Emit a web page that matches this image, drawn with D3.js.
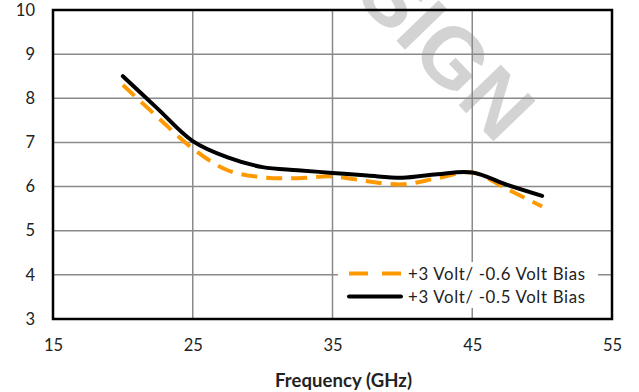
<!DOCTYPE html>
<html>
<head>
<meta charset="utf-8">
<script src="https://cdn.jsdelivr.net/npm/d3@7"></script>
<style>
  body { margin: 0; background: #fff; }
  svg { display: block; font-family: Lato, "Open Sans", sans-serif; }
</style>
</head>
<body>
<script>
// Datos
const freq = [20, 22.5, 25, 27.5, 30, 32.5, 35, 37.5, 40, 42.5, 45, 47.5, 50];
const bias06 = [8.30, 7.57, 6.86, 6.37, 6.21, 6.19, 6.23, 6.12, 6.05, 6.19, 6.32, 5.94, 5.55];
const bias05 = [8.50, 7.76, 7.03, 6.66, 6.44, 6.37, 6.31, 6.25, 6.20, 6.28, 6.32, 6.04, 5.79];
const xTicks = [15, 25, 35, 45, 55];
const yTicks = [3, 4, 5, 6, 7, 8, 9, 10];
const seriesNames = ["+3 Volt/ -0.6 Volt Bias", "+3 Volt/ -0.5 Volt Bias"];

const width = 639;
const height = 392;
const plotLeft = 53, plotRight = 612, plotTop = 10, plotBottom = 319;

const svg = d3.select("body")
    .append("svg")
    .attr("width", width)
    .attr("height", height);

// Escalas
const x = d3.scaleLinear().domain([15, 55]).range([plotLeft, plotRight]);
const y = d3.scaleLinear().domain([3, 10]).range([plotBottom, plotTop]);

// Marca de agua (debajo de la rejilla, cortada arriba como en el original)
svg.append("text")
    .attr("transform", "translate(353,-4) rotate(46)")
    .style("font-family", "Liberation Sans, Arial, sans-serif")
    .style("font-weight", "bold")
    .style("font-size", "85px")
    .style("fill", "#d3d3d3")
    .text("SIGN");

// Rejilla
svg.append("g")
    .selectAll("line")
    .data(yTicks)
    .enter()
    .append("line")
    .attr("x1", plotLeft).attr("x2", plotRight)
    .attr("y1", d => y(d)).attr("y2", d => y(d))
    .attr("stroke", "#8a8a8a")
    .attr("stroke-width", 1.5);

svg.append("g")
    .selectAll("line")
    .data(xTicks)
    .enter()
    .append("line")
    .attr("x1", d => x(d)).attr("x2", d => x(d))
    .attr("y1", plotTop).attr("y2", plotBottom)
    .attr("stroke", "#8a8a8a")
    .attr("stroke-width", 1.5);

// Ejes (solo etiquetas)
const xAxis = d3.axisBottom(x).tickValues(xTicks).tickSize(0).tickPadding(0).tickFormat(d3.format("d"));
const yAxis = d3.axisLeft(y).tickValues(yTicks).tickSize(0).tickPadding(0).tickFormat(d3.format("d"));

svg.append("g")
    .attr("transform", "translate(0," + (plotBottom + 20) + ")")
    .call(xAxis)
    .call(g => g.select(".domain").remove())
    .selectAll("text")
    .style("font-size", "16.5px")
    .style("fill", "#222")
    .style("font-family", "Lato, sans-serif");

svg.append("g")
    .attr("transform", "translate(" + (plotLeft - 18) + ",0)")
    .call(yAxis)
    .call(g => g.select(".domain").remove())
    .selectAll("text")
    .style("font-size", "16.5px")
    .style("fill", "#222")
    .style("font-family", "Lato, sans-serif");

// Lineas
const line = (vals) => d3.line()
    .x((d, i) => x(freq[i]))
    .y(d => y(d))
    .curve(d3.curveCatmullRom.alpha(0.5))(vals);

svg.append("path")
    .attr("d", line(bias06))
    .attr("fill", "none")
    .attr("stroke", "#ff9900")
    .attr("stroke-width", 4)
    .attr("stroke-dasharray", "16,9");

svg.append("path")
    .attr("d", line(bias05))
    .attr("fill", "none")
    .attr("stroke", "#000")
    .attr("stroke-width", 4)
    .attr("stroke-linecap", "round");

// Marco del area de trazado
svg.append("rect")
    .attr("x", plotLeft).attr("y", plotTop)
    .attr("width", plotRight - plotLeft).attr("height", plotBottom - plotTop)
    .attr("fill", "none")
    .attr("stroke", "#000")
    .attr("stroke-width", 2.5);

// Leyenda
const legend = svg.append("g").attr("id", "legend");
legend.append("rect")
    .attr("x", 338).attr("y", 262)
    .attr("width", 260).attr("height", 46)
    .attr("fill", "#fff");

const legendItem = legend.selectAll(".legend-label")
    .data(seriesNames)
    .enter()
    .append("g")
    .attr("class", "legend-label")
    .attr("transform", (d, i) => "translate(349," + (273.5 + i * 23) + ")");

legendItem.append("line")
    .attr("x1", 0).attr("x2", 52)
    .attr("stroke", (d, i) => i === 0 ? "#ff9900" : "#000")
    .attr("stroke-width", 4)
    .attr("stroke-dasharray", (d, i) => i === 0 ? "19,14" : null)
    .attr("stroke-linecap", (d, i) => i === 0 ? "butt" : "round");

legendItem.append("text")
    .attr("x", 59)
    .attr("y", 6.5)
    .attr("textLength", 177)
    .style("font-size", "16.8px")
    .style("fill", "#222")
    .text(d => d);

// Titulo del eje x
svg.append("text")
    .attr("x", 275)
    .attr("y", 387)
    .attr("textLength", 137)
    .style("font-size", "18.5px")
    .style("font-weight", "bold")
    .style("fill", "#222")
    .text("Frequency (GHz)");
</script>
</body>
</html>
